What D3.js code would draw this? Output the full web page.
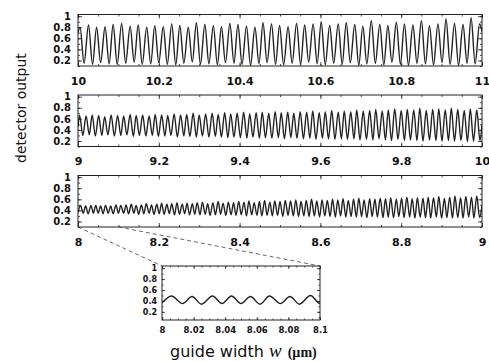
<!DOCTYPE html>
<html>
<head>
<meta charset="utf-8">
<script src="https://cdn.jsdelivr.net/npm/d3@7/dist/d3.min.js"></script>
<style>
    body { margin: 0; background: #fff; }
    text { font-family: 'DejaVu Sans', sans-serif; fill: #111; }
    .tick-label { font-weight: bold; }
</style>
</head>
<body>
<div id="chart-container"></div>
<script>
const WIDTH = 489;
const HEIGHT = 362;
const PLOT_LEFT = 78;
const PLOT_RIGHT = 482;
const PANEL_HEIGHT = 51.5;
const PANEL_TOPS = [14.5, 95, 175.5];
const INSET = { left: 162, right: 320, top: 266, bottom: 320 };
const LINE_COLOR = '#222';

const panel1Peaks = [
    [10.005, .80], [10.026, .84], [10.046, .80], [10.067, .81], [10.087, .85], [10.108, .87], [10.129, .82],
    [10.149, .84], [10.170, .80], [10.190, .83], [10.211, .81], [10.232, .86], [10.252, .83], [10.273, .80],
    [10.293, .88], [10.314, .85], [10.335, .83], [10.355, .81], [10.376, .87], [10.396, .85], [10.417, .82],
    [10.438, .80], [10.458, .88], [10.479, .86], [10.499, .83], [10.520, .81], [10.541, .87], [10.561, .84],
    [10.582, .86], [10.602, .90], [10.623, .83], [10.644, .86], [10.664, .88], [10.685, .85], [10.705, .82],
    [10.726, .92], [10.747, .85], [10.767, .83], [10.788, .89], [10.808, .86], [10.829, .84], [10.850, .92],
    [10.870, .83], [10.891, .86], [10.911, .95], [10.932, .87], [10.953, .85], [10.973, .97], [10.994, .86],
];
const panel1Troughs = [
    [10.015, .15], [10.036, .13], [10.056, .16], [10.077, .14], [10.097, .13], [10.118, .15], [10.139, .17],
    [10.159, .13], [10.180, .14], [10.200, .16], [10.221, .13], [10.242, .12], [10.262, .15], [10.283, .17],
    [10.303, .13], [10.324, .14], [10.345, .12], [10.365, .16], [10.386, .15], [10.406, .13], [10.427, .11],
    [10.448, .14], [10.468, .16], [10.489, .13], [10.509, .12], [10.530, .15], [10.551, .13], [10.571, .17],
    [10.592, .14], [10.612, .12], [10.633, .15], [10.654, .13], [10.674, .16], [10.695, .11], [10.715, .14],
    [10.736, .15], [10.757, .12], [10.777, .17], [10.798, .13], [10.818, .11], [10.839, .15], [10.860, .14],
    [10.880, .12], [10.901, .16], [10.921, .13], [10.942, .11], [10.963, .15], [10.983, .14],
];
const panel1Ends = [[10, .70], [11, .72]];

const panel2Peaks = [
    [9.004, .66], [9.020, .65], [9.035, .67], [9.051, .66], [9.066, .64], [9.082, .67], [9.098, .66], [9.113, .65],
    [9.129, .68], [9.144, .66], [9.160, .67], [9.176, .65], [9.191, .68], [9.207, .67], [9.222, .66], [9.238, .69],
    [9.254, .67], [9.269, .68], [9.285, .70], [9.300, .67], [9.316, .69], [9.332, .70], [9.347, .68], [9.363, .71],
    [9.378, .69], [9.394, .70], [9.410, .72], [9.425, .69], [9.441, .71], [9.456, .72], [9.472, .70], [9.488, .73],
    [9.503, .71], [9.519, .72], [9.534, .70], [9.550, .73], [9.566, .72], [9.581, .74], [9.597, .71], [9.612, .73],
    [9.628, .75], [9.644, .72], [9.659, .74], [9.675, .73], [9.690, .76], [9.706, .74], [9.722, .75], [9.737, .77],
    [9.753, .74], [9.768, .76], [9.784, .78], [9.800, .75], [9.815, .77], [9.831, .76], [9.846, .79], [9.862, .75],
    [9.878, .77], [9.893, .78], [9.909, .76], [9.924, .79], [9.940, .77], [9.956, .75], [9.971, .78], [9.987, .76],
];
const panel2Troughs = [
    [9.012, .30], [9.028, .31], [9.043, .29], [9.059, .30], [9.074, .31], [9.090, .29], [9.106, .30], [9.121, .31],
    [9.137, .28], [9.152, .30], [9.168, .29], [9.184, .30], [9.199, .28], [9.215, .29], [9.230, .30], [9.246, .27],
    [9.262, .29], [9.277, .28], [9.293, .27], [9.308, .29], [9.324, .27], [9.340, .28], [9.355, .27], [9.371, .26],
    [9.386, .27], [9.402, .26], [9.418, .25], [9.433, .27], [9.449, .25], [9.464, .26], [9.480, .25], [9.496, .26],
    [9.511, .24], [9.527, .26], [9.542, .25], [9.558, .24], [9.574, .25], [9.589, .23], [9.605, .25], [9.620, .24],
    [9.636, .23], [9.652, .24], [9.667, .23], [9.683, .24], [9.698, .22], [9.714, .23], [9.730, .22], [9.745, .24],
    [9.761, .22], [9.776, .21], [9.792, .23], [9.808, .21], [9.823, .22], [9.839, .21], [9.854, .20], [9.870, .22],
    [9.886, .21], [9.901, .20], [9.917, .21], [9.932, .20], [9.948, .21], [9.964, .19], [9.979, .20], [9.995, .21],
];
const panel2Ends = [[9, .45], [10, .50]];

const panel3Peaks = [
    [8.006, .49], [8.019, .48], [8.032, .49], [8.044, .49], [8.056, .48], [8.068, .49], [8.081, .48], [8.094, .50],
    [8.106, .49], [8.119, .50], [8.132, .51], [8.144, .49], [8.157, .50], [8.169, .52], [8.182, .50], [8.195, .51],
    [8.207, .53], [8.220, .51], [8.232, .52], [8.245, .54], [8.258, .51], [8.270, .53], [8.283, .52], [8.295, .54],
    [8.308, .55], [8.321, .52], [8.334, .54], [8.347, .56], [8.359, .53], [8.372, .55], [8.385, .54], [8.398, .56],
    [8.411, .55], [8.423, .57], [8.436, .54], [8.449, .56], [8.462, .58], [8.475, .55], [8.487, .57], [8.500, .56],
    [8.513, .58], [8.526, .57], [8.539, .59], [8.552, .56], [8.565, .58], [8.578, .60], [8.591, .57], [8.604, .59],
    [8.617, .58], [8.630, .60], [8.643, .59], [8.656, .61], [8.669, .58], [8.682, .60], [8.695, .62], [8.708, .59],
    [8.722, .61], [8.735, .60], [8.748, .62], [8.761, .61], [8.774, .63], [8.788, .60], [8.801, .62], [8.814, .64],
    [8.827, .61], [8.840, .63], [8.854, .62], [8.867, .64], [8.880, .63], [8.893, .65], [8.907, .62], [8.920, .64],
    [8.933, .66], [8.947, .63], [8.960, .65], [8.974, .64], [8.987, .66],
];
const panel3Troughs = [
    [8.013, .35], [8.025, .34], [8.038, .35], [8.050, .35], [8.062, .34], [8.075, .35], [8.087, .34], [8.100, .35],
    [8.113, .35], [8.125, .34], [8.138, .35], [8.150, .33], [8.163, .34], [8.176, .35], [8.188, .33], [8.201, .34],
    [8.213, .33], [8.226, .34], [8.239, .32], [8.251, .33], [8.264, .34], [8.276, .32], [8.289, .33], [8.302, .32],
    [8.315, .33], [8.327, .31], [8.340, .32], [8.353, .33], [8.366, .31], [8.379, .32], [8.391, .31], [8.404, .32],
    [8.417, .30], [8.430, .32], [8.443, .31], [8.455, .30], [8.468, .31], [8.481, .30], [8.494, .31], [8.507, .29],
    [8.520, .31], [8.533, .30], [8.546, .29], [8.559, .30], [8.572, .29], [8.585, .30], [8.598, .28], [8.611, .30],
    [8.624, .29], [8.637, .28], [8.650, .30], [8.663, .28], [8.676, .29], [8.689, .28], [8.702, .29], [8.715, .27],
    [8.728, .29], [8.741, .28], [8.755, .27], [8.768, .28], [8.781, .27], [8.794, .29], [8.807, .27], [8.821, .28],
    [8.834, .26], [8.847, .28], [8.860, .27], [8.873, .26], [8.887, .28], [8.900, .26], [8.913, .27], [8.927, .26],
    [8.940, .27], [8.953, .26], [8.967, .28], [8.980, .26], [8.994, .27],
];
const panel3Ends = [[8, .36], [9, .48]];

const panelDomains = [[10, 11], [9, 10], [8, 9]];
const panelTickValues = [
    [10, 10.2, 10.4, 10.6, 10.8, 11],
    [9, 9.2, 9.4, 9.6, 9.8, 10],
    [8, 8.2, 8.4, 8.6, 8.8, 9],
];
const panelTickLabels = [
    ['10', '10.2', '10.4', '10.6', '10.8', '11'],
    ['9', '9.2', '9.4', '9.6', '9.8', '10'],
    ['8', '8.2', '8.4', '8.6', '8.8', '9'],
];
const yTickValues = [0.2, 0.4, 0.6, 0.8, 1];
const yTickLabels = ['0.2', '0.4', '0.6', '0.8', '1'];

const insetDomain = [8, 8.1];
const insetTickValues = [8, 8.02, 8.04, 8.06, 8.08, 8.1];
const insetTickLabels = ['8', '8.02', '8.04', '8.06', '8.08', '8.1'];

const series = (peaks, troughs, ends) =>
    peaks.concat(troughs, ends).sort((a, b) => a[0] - b[0]);

const panels = [
    series(panel1Peaks, panel1Troughs, panel1Ends),
    series(panel2Peaks, panel2Troughs, panel2Ends),
    series(panel3Peaks, panel3Troughs, panel3Ends),
];

const svg = d3
    .select('#chart-container')
    .append('svg')
    .attr('width', WIDTH)
    .attr('height', HEIGHT)
    .attr('viewBox', [0, 0, WIDTH, HEIGHT]);

const defs = svg.append('defs');

function styleAxis(g) {
    g.select('.domain').remove();
    g.selectAll('.tick line').attr('stroke', '#222').attr('stroke-width', 0.8);
}

// boxed frame with inward ticks on all four sides
function drawFrame(g, x, y, box, opt) {
    const minorX = d3.range(x.domain()[0], x.domain()[1] + 1e-9, opt.minorX);
    const minorY = d3.range(0.1, 1.0001, opt.minorY);
    const sides = [
        [d3.axisBottom, `translate(0,${box.bottom})`, x, opt.xTicks, opt.xLabels],
        [d3.axisTop, `translate(0,${box.top})`, x, opt.xTicks, null],
        [d3.axisLeft, `translate(${box.left},0)`, y, yTickValues, opt.yLabels],
        [d3.axisRight, `translate(${box.right},0)`, y, yTickValues, null],
    ];
    sides.forEach(([axisFn, transform, scale, ticks, labels], i) => {
        const horizontal = i < 2;
        const minor = axisFn(scale)
            .tickValues(horizontal ? minorX : minorY)
            .tickSizeInner(-opt.minorSize)
            .tickSizeOuter(0)
            .tickFormat(() => '');
        g.append('g').attr('transform', transform).call(minor).call(styleAxis);
        const major = axisFn(scale)
            .tickValues(ticks)
            .tickSizeInner(-opt.majorSize)
            .tickSizeOuter(0)
            .tickPadding(horizontal ? opt.xPad : opt.yPad)
            .tickFormat((d, k) => (labels ? labels[k] : ''));
        const ag = g.append('g').attr('transform', transform).call(major).call(styleAxis);
        ag.selectAll('text')
            .attr('class', 'tick-label')
            .attr('fill', '#111')
            .style('font-size', horizontal ? opt.xFont : opt.yFont);
    });
    g.append('rect')
        .attr('x', box.left)
        .attr('y', box.top)
        .attr('width', box.right - box.left)
        .attr('height', box.bottom - box.top)
        .attr('fill', 'none')
        .attr('stroke', '#222')
        .attr('stroke-width', 1);
}

function drawCurve(g, data, x, y, box, id) {
    defs.append('clipPath')
        .attr('id', id)
        .append('rect')
        .attr('x', box.left)
        .attr('y', box.top)
        .attr('width', box.right - box.left)
        .attr('height', box.bottom - box.top);
    const line = d3
        .line()
        .x((d) => x(d[0]))
        .y((d) => y(d[1]))
        .curve(d3.curveMonotoneX);
    g.append('path')
        .datum(data)
        .attr('clip-path', `url(#${id})`)
        .attr('fill', 'none')
        .attr('stroke', LINE_COLOR)
        .attr('stroke-width', 1.4)
        .attr('stroke-linejoin', 'round')
        .attr('d', line);
}

const scales = [];
panels.forEach((data, i) => {
    const box = {
        left: PLOT_LEFT,
        right: PLOT_RIGHT,
        top: PANEL_TOPS[i],
        bottom: PANEL_TOPS[i] + PANEL_HEIGHT,
    };
    const x = d3.scaleLinear().domain(panelDomains[i]).range([box.left, box.right]);
    const y = d3.scaleLinear().domain([0.1, 1.03]).range([box.bottom, box.top]);
    scales.push({ x, y, box });
    const g = svg.append('g');
    drawCurve(g, data, x, y, box, `clip-${i}`);
    drawFrame(g, x, y, box, {
        xTicks: panelTickValues[i],
        xLabels: panelTickLabels[i],
        yLabels: yTickLabels,
        minorX: 0.05,
        minorY: 0.1,
        majorSize: 4,
        minorSize: 2,
        xPad: 11,
        yPad: 7,
        xFont: '11px',
        yFont: '10px',
    });
});

// inset: zoom on 8 - 8.1
const inset = scales[2];
const xi = d3.scaleLinear().domain(insetDomain).range([INSET.left, INSET.right]);
const yi = d3.scaleLinear().domain([0.05, 1.04]).range([INSET.bottom, INSET.top]);

svg.append('g')
    .selectAll('line')
    .data([
        [insetDomain[0], INSET.left],
        [insetDomain[1], INSET.right],
    ])
    .join('line')
    .attr('x1', (d) => inset.x(d[0]))
    .attr('y1', inset.box.bottom)
    .attr('x2', (d) => d[1])
    .attr('y2', INSET.top)
    .attr('stroke', '#444')
    .attr('stroke-width', 0.8)
    .attr('stroke-dasharray', '4,3');

const ig = svg.append('g');
drawCurve(ig, panels[2].filter((d) => d[0] <= 8.11), xi, yi, INSET, 'clip-inset');
drawFrame(ig, xi, yi, INSET, {
    xTicks: insetTickValues,
    xLabels: insetTickLabels,
    yLabels: yTickLabels,
    minorX: 0.005,
    minorY: 0.1,
    majorSize: 3,
    minorSize: 1.5,
    xPad: 7,
    yPad: 5,
    xFont: '8.5px',
    yFont: '8px',
});

svg.append('text')
    .attr('transform', 'translate(26,108) rotate(-90)')
    .attr('text-anchor', 'middle')
    .style('font-size', '14px')
    .text('detector output');

const xTitle = svg.append('text').attr('x', 170).attr('y', 357).style('font-size', '16px');
xTitle.append('tspan').text('guide width ');
xTitle.append('tspan')
    .style('font-family', "'Liberation Serif', serif")
    .style('font-style', 'italic')
    .style('font-size', '19px')
    .text('w');
xTitle.append('tspan')
    .attr('dx', 6)
    .style('font-family', "'Liberation Serif', serif")
    .style('font-weight', 'bold')
    .style('font-size', '14px')
    .text('(µm)');
</script>
</body>
</html>
